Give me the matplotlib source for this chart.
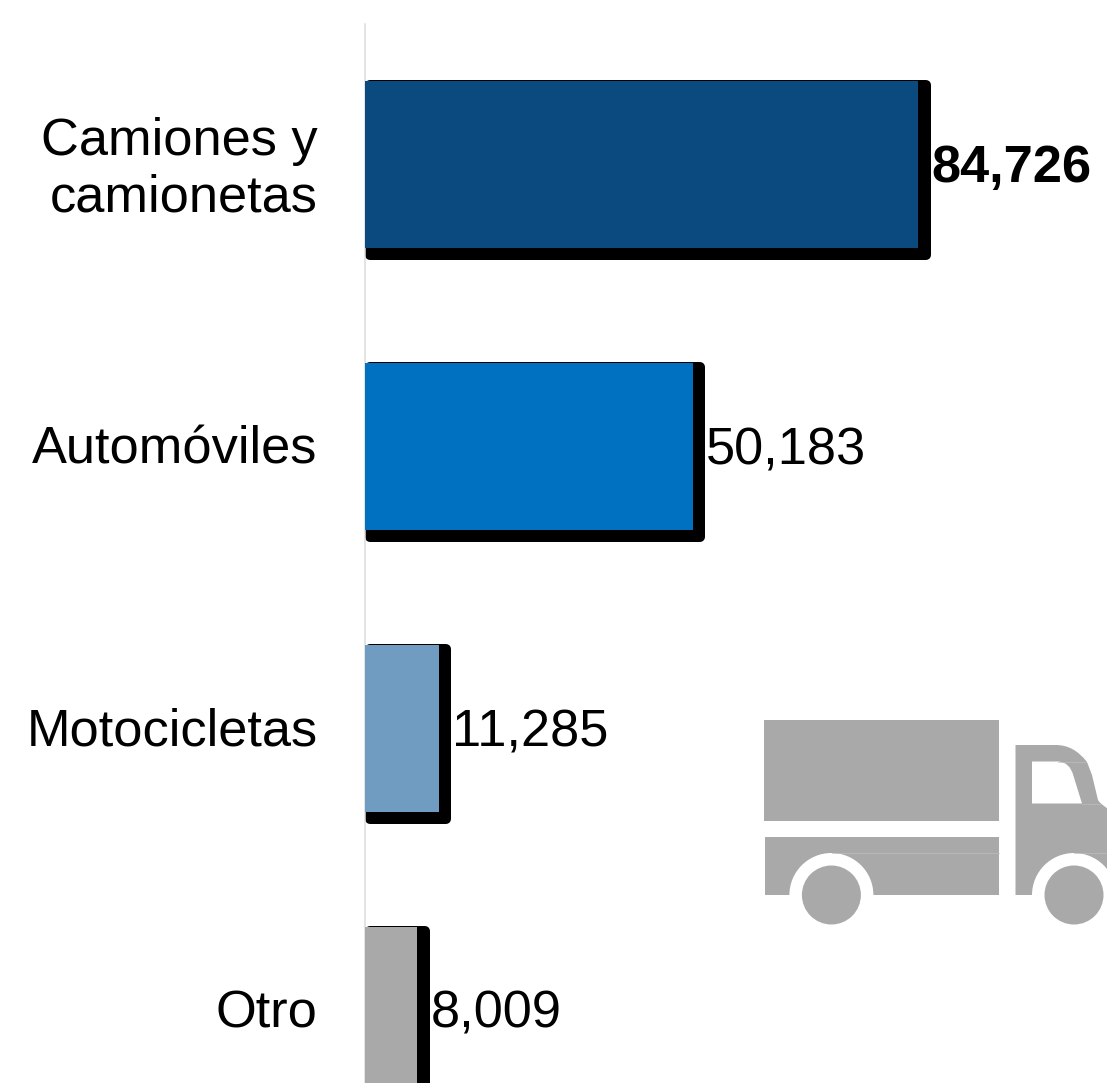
import matplotlib
matplotlib.use("Agg")
import matplotlib.pyplot as plt
from matplotlib.patches import Rectangle, Circle, PathPatch
from matplotlib.path import Path
from matplotlib.transforms import ScaledTranslation

plt.rcParams['font.family'] = ['Liberation Sans', 'DejaVu Sans']

categories = ["Camiones y\ncamionetas", "Automóviles", "Motocicletas", "Otro"]
values = [84726, 50183, 11285, 8009]
value_labels = ["84,726", "50,183", "11,285", "8,009"]
colors = ["#0A4A7F", "#0070C0", "#709CC2", "#A9A9A9"]
truck_gray = "#A9A9A9"

W, H = 1107, 1083
px_per_unit = 553 / 84726  # first bar is 553 px long
row_px = 282
font_size = 37.7

fig = plt.figure(figsize=(W / 100, H / 100), dpi=100, facecolor="white")
ax = fig.add_axes([365 / W, 0, (W - 365) / W, (H - 24) / H])
ax.set_xlim(0, (W - 365) / px_per_unit)
ax.set_ylim((H - 164.5) / row_px, -(164.5 - 24) / row_px)

ypos = list(range(len(categories)))
bar_h = 167 / row_px

# black shadow sits behind the fill, offset down and right, rounded corners
sh_left = 5 / px_per_unit
sh_h = 170.5 / row_px
for y, v in zip(ypos, values):
    ax.barh(y + 5.25 / row_px, v + 2.5 / px_per_unit, height=sh_h, left=sh_left, color="black",
            edgecolor="black", linewidth=10 * 0.72, joinstyle="round", zorder=2)

ax.barh(ypos, values, height=bar_h, color=colors, zorder=3)

for y, v, lab in zip(ypos, values, value_labels):
    ax.annotate(lab, (v, y), xytext=(13 * 0.72, 1.5 * 0.72), textcoords="offset points",
                ha="left", va="center_baseline", fontsize=font_size, color="black",
                fontweight="bold" if y == 0 else "normal", zorder=5)

ax.set_yticks(ypos)
ax.set_yticklabels(categories, fontsize=font_size, color="black", linespacing=1.2)
ax.tick_params(axis="y", length=0, pad=47.5 * 0.72)
# two-line label sits a bit higher than the single-line ones
for lab, dy in zip(ax.get_yticklabels(), [4.5, 2, 2, 2]):
    lab.set_transform(lab.get_transform() + ScaledTranslation(0, dy / 100, fig.dpi_scale_trans))
ax.set_xticks([])
for s in ["top", "right", "bottom"]:
    ax.spines[s].set_visible(False)
ax.spines["left"].set_color("#DDDDDD")
ax.spines["left"].set_linewidth(1.1)

# truck icon, drawn in pixel space on top of the chart
ic = fig.add_axes([0, 0, 1, 1], facecolor="none")
ic.set_xlim(0, W)
ic.set_ylim(H, 0)
ic.axis("off")

ic.add_patch(Rectangle((764, 720), 235, 101, fc=truck_gray, ec="none"))
ic.add_patch(Rectangle((765, 837), 234, 58, fc=truck_gray, ec="none"))

cab = Path(
    [(1015.5, 895), (1015.5, 745), (1056, 745),
     (1074, 745), (1087, 762),
     (1092, 775), (1098, 800),
     (1100, 804), (1110, 810),
     (1110, 895), (1015.5, 895)],
    [Path.MOVETO, Path.LINETO, Path.LINETO,
     Path.CURVE3, Path.CURVE3,
     Path.LINETO, Path.LINETO,
     Path.CURVE3, Path.CURVE3,
     Path.LINETO, Path.CLOSEPOLY],
)
ic.add_patch(PathPatch(cab, fc=truck_gray, ec="none"))

window = Path(
    [(1032, 761.5), (1058, 761.5),
     (1070, 762), (1073.5, 776),
     (1082, 803.5), (1032, 803.5), (1032, 761.5)],
    [Path.MOVETO, Path.LINETO,
     Path.CURVE3, Path.CURVE3,
     Path.LINETO, Path.LINETO, Path.CLOSEPOLY],
)
ic.add_patch(PathPatch(window, fc="white", ec="none"))

# faint seams in the icon
seam = "#BEBEBE"
ic.plot([832, 999], [853.3, 853.3], color=seam, lw=0.5)
ic.plot([1074, 1107], [853.3, 853.3], color=seam, lw=0.5)
ic.plot([1058, 1086], [761.5, 761.5], color=seam, lw=0.5)
ic.plot([1082, 1100], [803.5, 803.5], color=seam, lw=0.5)

for cx in [831.4, 1074]:
    ic.add_patch(Circle((cx, 895), 42, fc="white", ec="none"))
    ic.add_patch(Circle((cx, 895), 29.5, fc=truck_gray, ec="none"))

fig.savefig("out.png", dpi=100, facecolor="white")
